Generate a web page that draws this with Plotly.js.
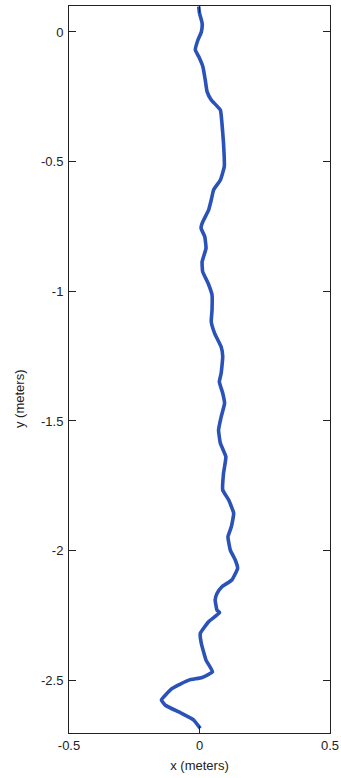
<!DOCTYPE html>
<html>
<head>
<meta charset="utf-8">
<script src="https://cdn.plot.ly/plotly-3.0.1.min.js"></script>
<style>html,body{margin:0;padding:0;background:#fff;}#chart{width:341px;height:778px;}</style>
</head>
<body>
<div id="chart"></div>
<script>
var pathX = [-0.003, 0.000, 0.010, 0.007, -0.006, -0.016, -0.003, 0.013, 0.022, 0.029, 0.045, 0.080, 0.086, 0.092, 0.095, 0.080, 0.054, 0.045,
  0.035, 0.010, 0.006, 0.020, 0.025, 0.010, 0.012, 0.033, 0.048, 0.048, 0.045, 0.058, 0.083, 0.089, 0.083, 0.076, 0.089, 0.096,
  0.083, 0.073, 0.080, 0.101, 0.092, 0.089, 0.112, 0.131, 0.122, 0.109, 0.118, 0.137, 0.146, 0.124, 0.086, 0.067,
  0.060, 0.067, 0.077, 0.035, 0.003, 0.007, 0.025, 0.050, 0.010, -0.041, -0.105, -0.146, -0.131, -0.067, -0.022, 0.003];
var pathY = [0.098, 0.072, 0.034, 0.000, -0.031, -0.069, -0.095, -0.134, -0.185, -0.230, -0.262, -0.301, -0.352, -0.429, -0.519, -0.571, -0.609, -0.648,
  -0.686, -0.738, -0.757, -0.789, -0.834, -0.886, -0.924, -0.969, -1.014, -1.072, -1.117, -1.162, -1.214, -1.252, -1.316, -1.349, -1.393, -1.432,
  -1.484, -1.535, -1.586, -1.638, -1.702, -1.766, -1.805, -1.856, -1.908, -1.946, -1.998, -2.036, -2.068, -2.113, -2.139, -2.165,
  -2.190, -2.229, -2.239, -2.274, -2.319, -2.358, -2.422, -2.467, -2.489, -2.499, -2.531, -2.576, -2.596, -2.628, -2.653, -2.685];
var xTickVals = [-0.5, 0, 0.5];
var xTickText = ["-0.5", "0", "0.5"];
var yTickVals = [0, -0.5, -1, -1.5, -2, -2.5];
var yTickText = ["0", "-0.5", "-1", "-1.5", "-2", "-2.5"];

var font = {family: "Liberation Sans, Arial, sans-serif", size: 13, color: "#222"};
var trace = {
  x: pathX, y: pathY, type: "scatter", mode: "lines",
  line: {color: "#2a52b8", width: 3.6, shape: "spline", smoothing: 0.35},
  hoverinfo: "none"
};
var axisCommon = {
  showline: true, linecolor: "#222", linewidth: 1, mirror: "ticks",
  ticks: "inside", ticklen: 7, tickcolor: "#222", tickwidth: 1,
  showgrid: false, zeroline: false, tickfont: font
};
var layout = {
  width: 341, height: 778,
  margin: {l: 69, r: 11, t: 6, b: 45, pad: 0},
  paper_bgcolor: "#fff", plot_bgcolor: "#fff",
  showlegend: false,
  font: font,
  xaxis: Object.assign({}, axisCommon, {
    range: [-0.5, 0.5], tickmode: "array", tickvals: xTickVals, ticktext: xTickText,
    title: {text: "x (meters)", font: font, standoff: 9}
  }),
  yaxis: Object.assign({}, axisCommon, {
    range: [-2.703, 0.10], tickmode: "array", tickvals: yTickVals, ticktext: yTickText,
    ticklabelstandoff: 2
  }),
  annotations: [{
    text: "y (meters)", textangle: -90, xref: "paper", yref: "paper",
    x: -0.19, y: 0.46, xanchor: "center", yanchor: "middle",
    showarrow: false, font: font
  }]
};
Plotly.newPlot("chart", [trace], layout, {staticPlot: true, displayModeBar: false});
</script>
</body>
</html>
